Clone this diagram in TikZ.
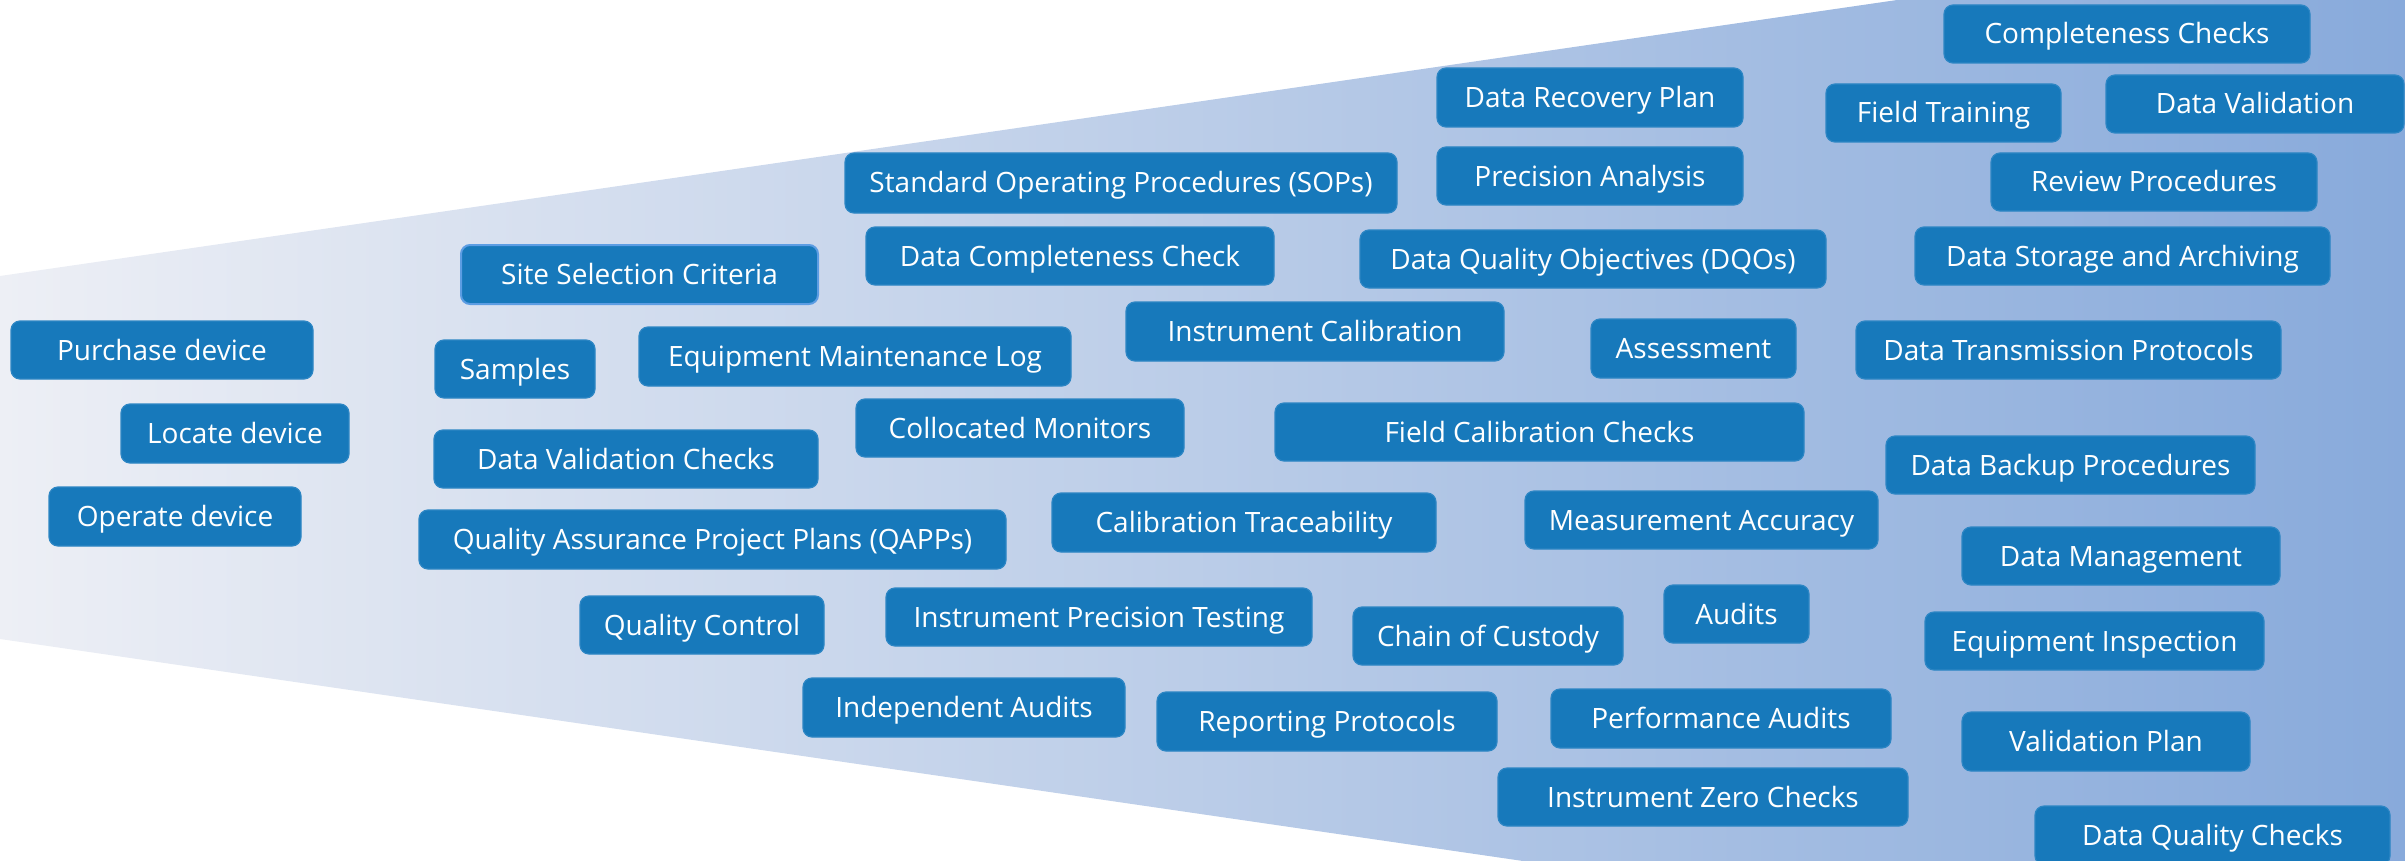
\documentclass[tikz,border=0pt]{standalone}
\usepackage{fontspec}
\setmainfont{Open Sans}
\definecolor{boxblue}{HTML}{1779BB}
\definecolor{boxedge}{HTML}{2D86C4}
\definecolor{hledge}{HTML}{5C9DE3}
\definecolor{funnelleft}{HTML}{EDEFF5}
\definecolor{funnelmid}{HTML}{B4C8E6}
\definecolor{funnelright}{HTML}{88AADB}
\begin{document}
\begin{tikzpicture}[x=1pt,y=-1pt,
  box/.style={draw=boxedge, line width=1.2pt, fill=boxblue, rounded corners=9pt,
    text=white, inner sep=0pt, text height=20pt, text depth=0pt,
    font=\fontsize{28}{33}\selectfont, align=center},
  boxhl/.style={box, draw=hledge, line width=2pt}]
\useasboundingbox (0,0) rectangle (2405,861);
% widening funnel band
\shade[shading=axis, left color=funnelleft, middle color=funnelmid, right color=funnelright]
  (0,276) -- (1897,0) -- (2405,0) -- (2405,861) -- (1523,861) -- (0,639) -- cycle;
\begin{scope}
\clip (0,0) rectangle (2405,861);
% left column
\node[box, minimum width=302pt, minimum height=58pt] (purchase) at (162,350) {Purchase device};
\node[box, minimum width=228pt, minimum height=59pt] (locate) at (235,433.5) {Locate device};
\node[box, minimum width=252pt, minimum height=59pt] (operate) at (175,516.5) {Operate device};
% second band
\node[boxhl, minimum width=357pt, minimum height=59pt] (site) at (639.5,274.5) {Site Selection Criteria};
\node[box, minimum width=160pt, minimum height=58pt] (samples) at (515,369) {Samples};
\node[box, minimum width=432pt, minimum height=59pt] (eqlog) at (855,356.5) {Equipment Maintenance Log};
\node[box, minimum width=384pt, minimum height=58pt] (dvc) at (626,459) {Data Validation Checks};
\node[box, minimum width=587pt, minimum height=59pt] (qapp) at (712.5,539.5) {Quality Assurance Project Plans (QAPPs)};
\node[box, minimum width=244pt, minimum height=58pt] (qc) at (702,625) {Quality Control};
\node[box, minimum width=322pt, minimum height=59pt] (indaudits) at (964,707.5) {Independent Audits};
% middle band
\node[box, minimum width=552pt, minimum height=60pt] (sops) at (1121,183) {Standard Operating Procedures (SOPs)};
\node[box, minimum width=408pt, minimum height=58pt] (dcc) at (1070,256) {Data Completeness Check};
\node[box, minimum width=328pt, minimum height=58pt] (colloc) at (1020,428) {Collocated Monitors};
\node[box, minimum width=378pt, minimum height=59pt] (instcal) at (1315,331.5) {Instrument Calibration};
\node[box, minimum width=384pt, minimum height=59pt] (caltrace) at (1244,522.5) {Calibration Traceability};
\node[box, minimum width=426pt, minimum height=58pt] (prectest) at (1099,617) {Instrument Precision Testing};
\node[box, minimum width=340pt, minimum height=59pt] (reporting) at (1327,721.5) {Reporting Protocols};
% fourth band
\node[box, minimum width=306pt, minimum height=59pt] (recovery) at (1590,97.5) {Data Recovery Plan};
\node[box, minimum width=306pt, minimum height=58pt] (precision) at (1590,176) {Precision Analysis};
\node[box, minimum width=466pt, minimum height=58pt] (dqo) at (1593,259) {Data Quality Objectives (DQOs)};
\node[box, minimum width=205pt, minimum height=59pt] (assess) at (1693.5,348.5) {Assessment};
\node[box, minimum width=529pt, minimum height=58pt] (fieldcal) at (1539.5,432) {Field Calibration Checks};
\node[box, minimum width=353pt, minimum height=58pt] (measacc) at (1701.5,520) {Measurement Accuracy};
\node[box, minimum width=145pt, minimum height=58pt] (audits) at (1736.5,614) {Audits};
\node[box, minimum width=270pt, minimum height=58pt] (custody) at (1488,636) {Chain of Custody};
\node[box, minimum width=340pt, minimum height=59pt] (perfaudits) at (1721,718.5) {Performance Audits};
\node[box, minimum width=410pt, minimum height=58pt] (zero) at (1703,797) {Instrument Zero Checks};
% right band
\node[box, minimum width=366pt, minimum height=58pt] (completeness) at (2127,34) {Completeness Checks};
\node[box, minimum width=235pt, minimum height=58pt] (fieldtraining) at (1943.5,113) {Field Training};
\node[box, minimum width=298pt, minimum height=58pt] (datavalid) at (2255,104) {Data Validation};
\node[box, minimum width=326pt, minimum height=58pt] (review) at (2154,182) {Review Procedures};
\node[box, minimum width=415pt, minimum height=58pt] (storage) at (2122.5,256) {Data Storage and Archiving};
\node[box, minimum width=425pt, minimum height=58pt] (transmission) at (2068.5,350) {Data Transmission Protocols};
\node[box, minimum width=369pt, minimum height=58pt] (backup) at (2070.5,465) {Data Backup Procedures};
\node[box, minimum width=318pt, minimum height=58pt] (datamgmt) at (2121,556) {Data Management};
\node[box, minimum width=339pt, minimum height=58pt] (eqinspect) at (2094.5,641) {Equipment Inspection};
\node[box, minimum width=288pt, minimum height=59pt] (valplan) at (2106,741.5) {Validation Plan};
\node[box, minimum width=355pt, minimum height=59pt] (dqchecks) at (2212.5,835.5) {Data Quality Checks};
\end{scope}
\end{tikzpicture}
\end{document}
